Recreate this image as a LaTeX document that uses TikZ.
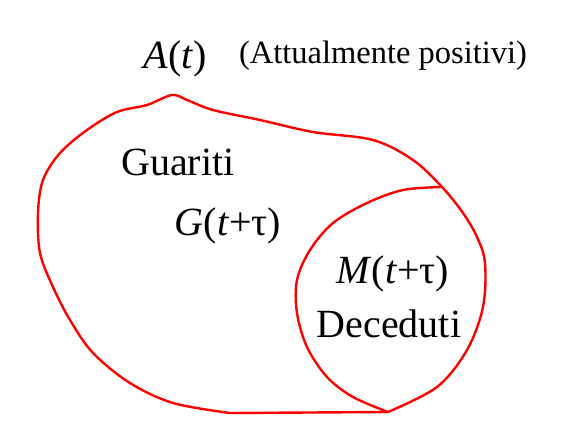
\documentclass[tikz,border=0pt]{standalone}
\usepackage{fontspec}
\setmainfont{Liberation Serif}
\begin{document}
\begin{tikzpicture}[x=1pt,y=-1pt]

\tikzstyle{blob} = [draw=red, line width=2.4pt, line join=round, line cap=round]
\tikzstyle{big} = [font=\fontsize{40}{44}\selectfont, inner sep=0, anchor=base]
\tikzstyle{small} = [font=\fontsize{32.5}{36}\selectfont, inner sep=0, anchor=base]

\useasboundingbox (0,0) rectangle (570,437);

\coordinate (top) at (442,187);
\coordinate (bottom) at (388,412);

% all currently positive
\draw [blob] plot [smooth, tension=0.55] coordinates {
  (bottom) (437,387) (467,350) (483,307) (485,263) (477,237) (463,213) (top)
  (413,160) (373,140) (313,132) (260,120) (213,110) (187,100) (172,95)
  (147,105) (117,112) (87,130) (60,153) (43,180) (38,213) (40,253) (53,287)
  (70,320) (93,353) (130,383) (173,403) (230,413)} -- cycle;

% deaths
\draw [blob] plot [smooth, tension=0.55] coordinates {
  (top) (403,190) (367,203) (333,223) (310,250) (297,280) (297,313)
  (307,347) (327,377) (353,397) (bottom)};

\node [big] (at) at (175,68) {\textit{A}(\textit{t})};
\node [small] (attivi) at (383,63) {(Attualmente positivi)};
\node [big] (guariti) at (178,175) {Guariti};
\node [big] (gt) at (228,235) {\textit{G}(\textit{t}+τ)};
\node [big] (mt) at (393,283) {\textit{M}(\textit{t}+τ)};
\node [big] (deceduti) at (389,337) {Deceduti};
\end{tikzpicture}
\end{document}
